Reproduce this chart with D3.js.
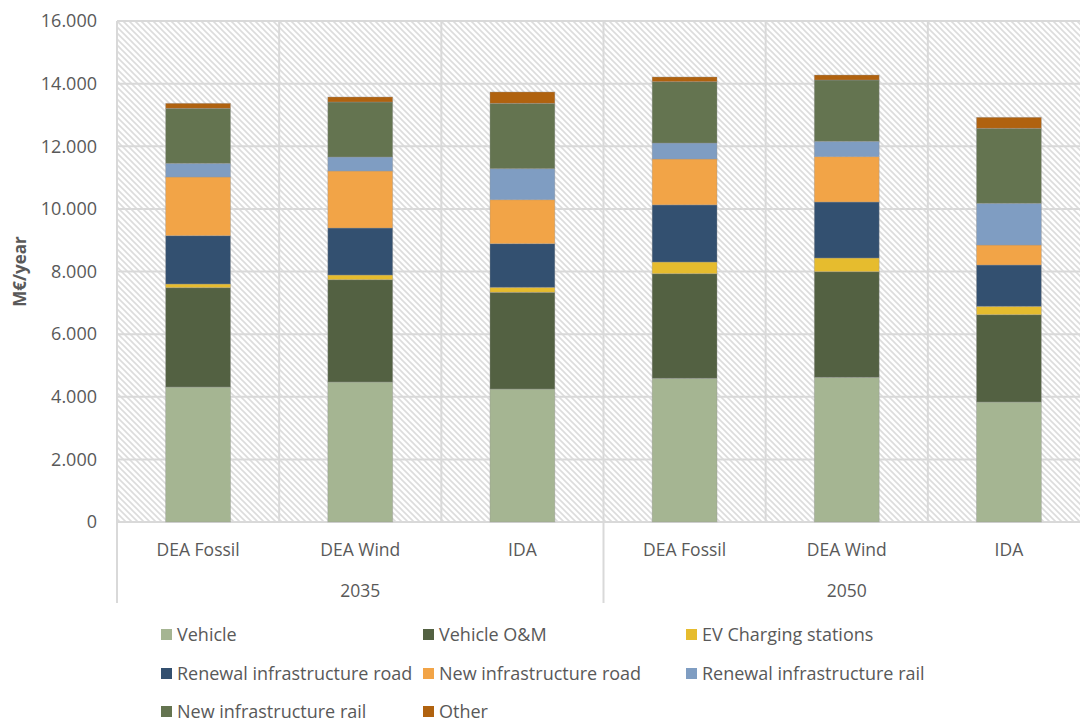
<!DOCTYPE html>
<html>
<head>
<meta charset="utf-8">
<script src="https://cdn.jsdelivr.net/npm/d3@7"></script>
<style>
  body { margin: 0; background: #fff; }
  svg { display: block; font-family: "Open Sans", sans-serif; }
</style>
</head>
<body>
<div id="chart"></div>
<script>
// data (M€/year)
const years = ["2035", "2050"];
const scenarios = ["DEA Fossil", "DEA Wind", "IDA"];
const seriesNames = ["Vehicle", "Vehicle O&M", "EV Charging stations", "Renewal infrastructure road",
    "New infrastructure road", "Renewal infrastructure rail", "New infrastructure rail", "Other"];
const vehicle = [4311, 4471, 4247, 4590, 4621, 3832];
const vehicleOM = [3172, 3267, 3089, 3340, 3373, 2788];
const evCharging = [118, 150, 159, 373, 437, 268];
const renewalRoad = [1543, 1501, 1393, 1825, 1789, 1320];
const newRoad = [1874, 1821, 1405, 1465, 1447, 638];
const renewalRail = [437, 447, 991, 511, 491, 1332];
const newRail = [1757, 1756, 2087, 1958, 1958, 2395];
const other = [159, 160, 362, 150, 159, 351];
const yTicks = [0, 2000, 4000, 6000, 8000, 10000, 12000, 14000, 16000];

const colors = ["#a5b592", "#536142", "#e6bc2e", "#335070", "#f2a447", "#7f9dc2", "#647450", "#b0620f"];
const seriesValues = [vehicle, vehicleOM, evCharging, renewalRoad, newRoad, renewalRail, newRail, other];

// rows for d3.stack
const keys = [];
years.forEach(y => scenarios.forEach(s => keys.push(y + "|" + s)));
const rows = keys.map((k, i) => {
    const r = { key: k };
    seriesNames.forEach((n, j) => r[n] = seriesValues[j][i]);
    return r;
});

const w = 1080;
const h = 721;
const padL = 117, padT = 21, padR = 1090, padB = 522;
const grid = "#d9d9d9";
const textCol = "#595959";

const svg = d3.select("#chart")
    .append("svg")
    .attr("width", w)
    .attr("height", h);

// hatched plot background
const pat = svg.append("defs").append("pattern")
    .attr("id", "hatch")
    .attr("patternUnits", "userSpaceOnUse")
    .attr("width", 6)
    .attr("height", 6);
pat.append("rect").attr("width", 6).attr("height", 6).attr("fill", "#fff");
pat.append("path")
    .attr("d", "M-1,-1 L7,7 M-1,5 L1,7 M5,-1 L7,1")
    .attr("stroke", "#dcdcdc")
    .attr("stroke-width", 1.6);

const xScale = d3.scaleBand()
    .domain(keys)
    .range([padL, padR])
    .paddingInner(0.6)
    .paddingOuter(0.3);

const yScale = d3.scaleLinear()
    .domain([0, 16000])
    .range([padB, padT]);

svg.append("rect")
    .attr("x", padL)
    .attr("y", padT)
    .attr("width", padR - padL)
    .attr("height", padB - padT)
    .attr("fill", "url(#hatch)");

// horizontal gridlines
svg.append("g")
    .selectAll("line")
    .data(yTicks)
    .enter()
    .append("line")
    .attr("x1", padL)
    .attr("x2", padR)
    .attr("y1", d => yScale(d))
    .attr("y2", d => yScale(d))
    .attr("stroke", grid)
    .attr("stroke-width", 2);

// vertical category separators
const step = xScale.step();
const bounds = d3.range(keys.length + 1).map(i => padL + i * step);
svg.append("g")
    .selectAll("line")
    .data(bounds)
    .enter()
    .append("line")
    .attr("x1", d => d)
    .attr("x2", d => d)
    .attr("y1", padT)
    .attr("y2", (d, i) => i % scenarios.length === 0 ? 603 : padB)
    .attr("stroke", grid)
    .attr("stroke-width", 2);

// stacked bars
const stack = d3.stack().keys(seriesNames);
const layers = stack(rows);

svg.append("g")
    .selectAll("g")
    .data(layers)
    .enter()
    .append("g")
    .attr("fill", (d, i) => colors[i])
    .selectAll("rect")
    .data(d => d)
    .enter()
    .append("rect")
    .attr("x", d => xScale(d.data.key))
    .attr("y", d => yScale(d[1]))
    .attr("width", xScale.bandwidth())
    .attr("height", d => yScale(d[0]) - yScale(d[1]))
    .attr("stroke", "rgba(150,150,150,0.45)")
    .attr("stroke-width", 0.8);

// y axis
const de = d3.formatLocale({ decimal: ",", thousands: ".", grouping: [3], currency: ["", "€"] });
const yAxis = d3.axisLeft(yScale)
    .tickValues(yTicks)
    .tickFormat(de.format(",.0f"))
    .tickSize(0)
    .tickPadding(20);

const gy = svg.append("g")
    .attr("transform", `translate(${padL},0)`)
    .call(yAxis);
gy.select(".domain").remove();
gy.selectAll("text")
    .attr("fill", textCol)
    .style("font-size", "18px")
    .style("font-family", "Open Sans");

svg.append("text")
    .attr("transform", `translate(26,${(padT + padB) / 2}) rotate(-90)`)
    .attr("text-anchor", "middle")
    .attr("fill", textCol)
    .style("font-size", "17px")
    .style("font-weight", "bold")
    .text("M€/year");

// x axis: scenario labels
const xAxis = d3.axisBottom(xScale)
    .tickFormat(k => k.split("|")[1])
    .tickSize(0)
    .tickPadding(0);

const gx = svg.append("g")
    .attr("transform", `translate(0,${padB})`)
    .call(xAxis);
gx.select(".domain").remove();
gx.selectAll("text")
    .attr("dy", null)
    .attr("y", 34)
    .attr("fill", textCol)
    .style("font-size", "17.5px")
    .style("font-family", "Open Sans");

// year labels
svg.append("g")
    .selectAll("text")
    .data(years)
    .enter()
    .append("text")
    .attr("x", (d, i) => padL + (i * scenarios.length + scenarios.length / 2) * step)
    .attr("y", 597)
    .attr("text-anchor", "middle")
    .attr("fill", textCol)
    .style("font-size", "17.5px")
    .text(d => d);

// legend
const legendX = [161, 423, 686];
const legendY = [634, 673, 711];
const legend = svg.append("g")
    .selectAll("g")
    .data(seriesNames)
    .enter()
    .append("g")
    .attr("transform", (d, i) => `translate(${legendX[i % 3]},${legendY[Math.floor(i / 3)]})`);

legend.append("rect")
    .attr("x", 0)
    .attr("y", -5)
    .attr("width", 11)
    .attr("height", 11)
    .attr("fill", (d, i) => colors[i]);

legend.append("text")
    .attr("x", 16)
    .attr("y", 6.5)
    .attr("fill", textCol)
    .style("font-size", "18px")
    .text(d => d);
</script>
</body>
</html>
